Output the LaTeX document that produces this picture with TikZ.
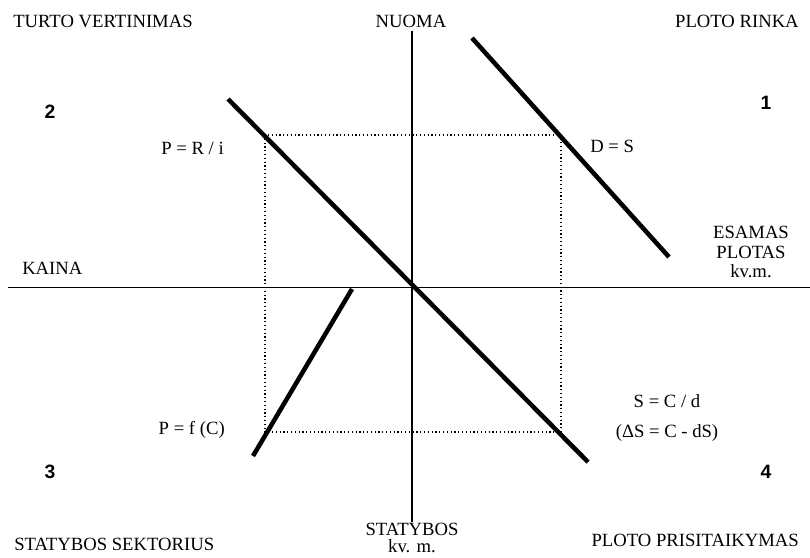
\documentclass[tikz,border=0pt]{standalone}
\usepackage{fontspec}
\setmainfont{Liberation Serif}
\newfontfamily\numfont{Liberation Sans}
\usetikzlibrary{positioning}

\begin{document}
\begin{tikzpicture}[
    x=0.75pt, y=-0.75pt,
    axisline/.style={line width=1.3pt},
    graphline/.style={line width=3.4pt},
    guide/.style={dotted, line width=0.85pt},
    txt/.style={inner sep=0pt, font=\fontsize{14}{16}\selectfont},
    qnum/.style={inner sep=0pt, font=\numfont\bfseries\fontsize{14.5}{16}\selectfont}
  ]
  \useasboundingbox (0,0) rectangle (810,557);

  % axes
  \coordinate (xl) at (8,287.5);
  \coordinate (xr) at (810,287.5);
  \coordinate (yt) at (412,31);
  \coordinate (yb) at (412,522);
  \draw[axisline] (xl) -- (xr);
  \draw[axisline] (yt) -- (yb);

  % guide rectangle
  \coordinate (g1) at (265,135);
  \coordinate (g2) at (561,432);
  \draw[guide] (g1) rectangle (g2);

  % schedules
  \coordinate (d1) at (472,38);
  \coordinate (d2) at (669,257);
  \coordinate (m1) at (228,99);
  \coordinate (m2) at (588,462);
  \coordinate (c1) at (352,289);
  \coordinate (c2) at (253,456);
  \draw[graphline] (d1) -- (d2);
  \draw[graphline] (m1) -- (m2);
  \draw[graphline] (c1) -- (c2);

  % quadrant titles
  \node[txt, anchor=west] (turto) at (13,21.5) {TURTO VERTINIMAS};
  \node[txt] (nuoma) at (411,21.5) {NUOMA};
  \node[txt, anchor=east] (rinka) at (799,21.5) {PLOTO RINKA};
  \node[txt, anchor=west] (sektorius) at (14,544) {STATYBOS SEKTORIUS};
  \node[txt, anchor=east] (prisitaikymas) at (799,540) {PLOTO PRISITAIKYMAS};
  \node[txt, align=center] (statybos) at (412,538) {STATYBOS\\[-3pt]kv. m.};
  \node[txt, anchor=west] (kaina) at (22,268.5) {KAINA};
  \node[txt, align=center] (esamas) at (751,252) {ESAMAS\\[-1.5pt]PLOTAS\\[-1.5pt]kv.m.};

  % quadrant numbers
  \node[qnum] (q1) at (766,103) {1};
  \node[qnum] (q2) at (50,112) {2};
  \node[qnum] (q3) at (50,472) {3};
  \node[qnum] (q4) at (766,472) {4};

  % equations
  \node[txt, anchor=east] (pri) at (224,148) {P = R / i};
  \node[txt, anchor=west] (ds) at (590,146) {D = S};
  \node[txt, anchor=east] (pfc) at (225,430) {P = f (C)};
  \node[txt] (scd) at (667,401) {S = C / d};
  \node[txt] (dsc) at (667,433) {(ΔS = C - dS)};
\end{tikzpicture}
\end{document}
